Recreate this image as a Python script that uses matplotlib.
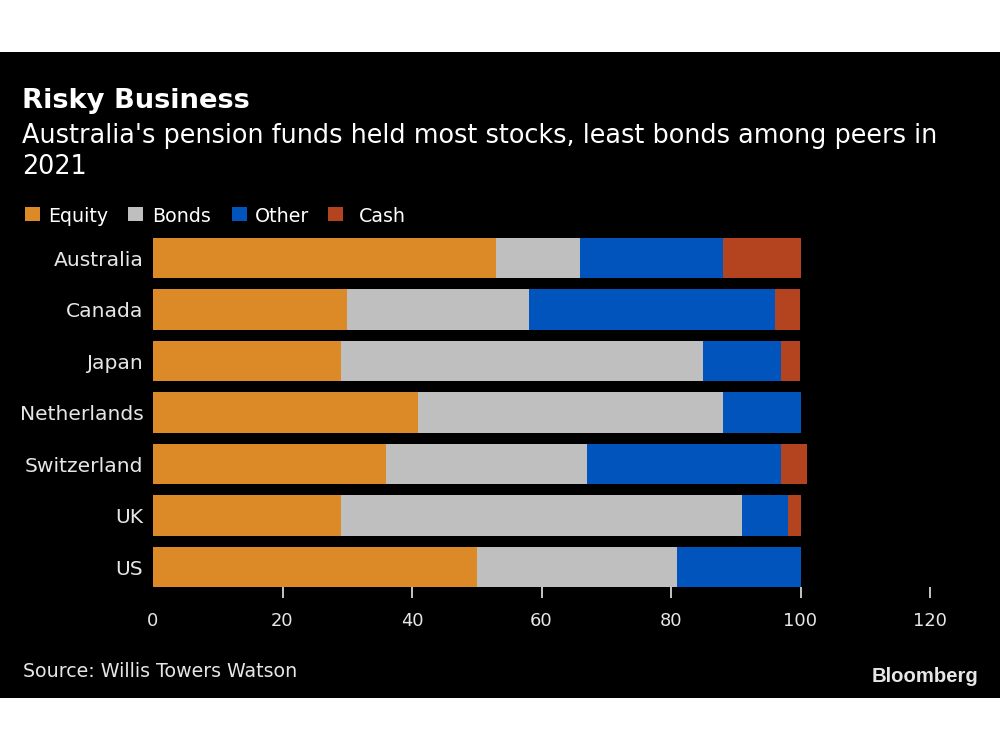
import matplotlib
matplotlib.use("Agg")
import matplotlib.pyplot as plt
from matplotlib.patches import Rectangle

plt.rcParams['font.family'] = ["DejaVu Sans"]

countries = ["Australia", "Canada", "Japan", "Netherlands", "Switzerland", "UK", "US"]
equity = [53, 30, 29, 41, 36, 29, 50]
bonds = [13, 28, 56, 47, 31, 62, 31]
other = [22, 38, 12, 12, 30, 7, 19]
cash = [12, 4, 3, 0, 4, 2, 0]
series_names = ["Equity", "Bonds", "Other", "Cash"]
colors = ["#DC8A28", "#BFBFBF", "#0054BC", "#B4441F"]
xticks = [0, 20, 40, 60, 80, 100, 120]

W, H = 1000, 750
fig = plt.figure(figsize=(10, 7.5), dpi=100)
fig.patch.set_facecolor("white")
renderer = fig.canvas.get_renderer()


def fy(py):
    return 1 - py / H


def fit(txt, width_px, **kw):
    """Return a font size making txt about width_px pixels wide."""
    size = 14.0
    for _ in range(3):
        t = fig.text(0, 0, txt, fontsize=size, **kw)
        w = t.get_window_extent(renderer).width
        t.remove()
        size *= width_px / w
    return size


fig.add_artist(Rectangle((0, fy(698)), 1, (698 - 52) / H, transform=fig.transFigure,
                         facecolor="black", edgecolor="none", zorder=0))

ax = fig.add_axes([153 / W, fy(598), (930 - 153) / W, (598 - 232.25) / H])
ax.set_facecolor("black")
ypos = list(range(len(countries)))
left = [0] * len(countries)
for vals, name, c in zip([equity, bonds, other, cash], series_names, colors):
    ax.barh(ypos, vals, left=left, height=0.78, color=c, label=name, zorder=2)
    left = [l + v for l, v in zip(left, vals)]

lab_size = fit("Australia", 90)
tick_size = fit("120", 34)
ax.set_xlim(0, 120)
ax.set_ylim(6.60, -0.5)
ax.set_yticks(ypos)
ax.set_yticklabels(countries, color="#E6E6E6", fontsize=lab_size)
ax.set_xticks(xticks)
ax.set_xticklabels([str(t) for t in xticks], color="#E6E6E6", fontsize=tick_size)
ax.tick_params(axis="y", length=0, pad=7)
ax.tick_params(axis="x", direction="in", length=8, width=1.2, color="#E6E6E6", pad=10)
ax.xaxis.get_major_ticks()[0].tick1line.set_visible(False)
for s in ax.spines.values():
    s.set_visible(False)

title = "Risky Business"
fig.text(22 / W, fy(108), title, color="white", fontsize=fit(title, 228, fontweight="bold"),
         fontweight="bold", va="baseline", ha="left")
sub1 = "Australia's pension funds held most stocks, least bonds among peers in"
sub_size = fit(sub1, 916)
fig.text(22 / W, fy(143), sub1, color="white", fontsize=sub_size, va="baseline", ha="left")
fig.text(22 / W, fy(174), "2021", color="white", fontsize=sub_size, va="baseline", ha="left")

# legend
sq_x = [25, 128, 232, 328]
tx_x = [48, 152, 255, 359]
leg_size = fit("Equity", 60)
for x0, x1, name, c in zip(sq_x, tx_x, series_names, colors):
    fig.add_artist(Rectangle((x0 / W, fy(221)), 15 / W, 14 / H, transform=fig.transFigure,
                             facecolor=c, edgecolor="none"))
    fig.text(x1 / W, fy(222), name, color="white", fontsize=leg_size, va="baseline", ha="left")

src = "Source: Willis Towers Watson"
fig.text(23 / W, fy(677), src, color="#E6E6E6", fontsize=fit(src, 275), va="baseline", ha="left")
fig.text(978 / W, fy(682), "Bloomberg", color="#E6E6E6",
         fontsize=fit("Bloomberg", 107, fontweight="bold", family="Liberation Sans"),
         fontweight="bold", family="Liberation Sans", va="baseline", ha="right")

fig.savefig("out.png", dpi=100, facecolor=fig.get_facecolor())
